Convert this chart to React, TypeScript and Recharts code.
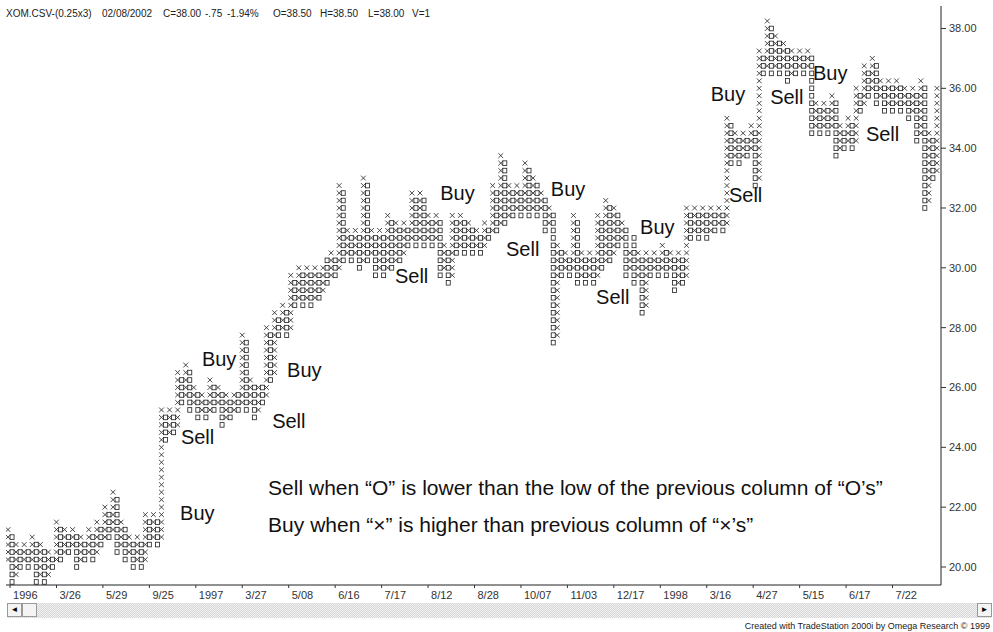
import React from "react";
import { ComposedChart, Bar, Scatter, XAxis, YAxis } from "recharts";

const BOX = 0.25;
const FONT = "'Liberation Sans', Arial, sans-serif";

// one entry per column, X and O columns alternate starting with X
const highs = [
  21.25, 21.0, 20.75, 20.5, 20.75, 20.5, 21.0, 20.75, 20.75, 20.5,
  20.5, 20.25, 21.5, 21.25, 21.25, 21.0, 21.25, 21.0, 21.0, 20.75,
  21.25, 21.0, 21.5, 21.25, 22.0, 21.75, 22.5, 22.25, 21.5, 21.25,
  21.0, 20.75, 21.0, 20.75, 21.75, 21.5, 21.75, 21.5, 25.25, 25.0,
  25.25, 25.0, 26.5, 26.25, 26.75, 26.5, 26.0, 25.75, 25.75, 25.5,
  26.25, 26.0, 26.0, 25.75, 25.75, 25.5, 25.75, 25.75, 27.75, 27.5,
  26.25, 26.0, 26.0, 26.0, 28.0, 27.75, 28.5, 28.25, 28.75, 28.5,
  29.75, 29.5, 30.0, 29.75, 30.0, 29.75, 30.0, 29.75, 30.0, 30.25,
  30.5, 30.25, 32.75, 32.5, 31.25, 31.0, 31.25, 31.0, 33.0, 32.75,
  31.25, 31.0, 31.25, 31.0, 31.75, 31.5, 31.5, 31.25, 31.5, 31.25,
  32.5, 32.25, 32.5, 32.25, 31.75, 31.5, 31.75, 31.5, 30.75, 30.5,
  31.75, 31.5, 31.75, 31.5, 31.5, 31.25, 31.25, 31.0, 31.5, 31.25,
  32.75, 32.5, 33.75, 33.5, 32.75, 32.5, 32.75, 32.5, 33.5, 33.25,
  33.0, 32.75, 32.5, 32.25, 32.0, 31.75, 30.75, 30.5, 30.5, 30.25,
  31.75, 31.5, 30.5, 30.25, 30.5, 30.25, 31.75, 31.5, 32.25, 32.0,
  32.0, 31.75, 31.5, 31.25, 30.5, 31.0, 30.5, 30.25, 30.5, 30.25,
  30.5, 30.25, 30.75, 30.5, 30.5, 30.25, 30.5, 30.25, 32.0, 31.75,
  32.0, 31.75, 32.0, 31.75, 32.0, 31.75, 32.0, 31.75, 35.0, 34.75,
  34.5, 34.25, 34.5, 34.25, 34.75, 34.5, 37.25, 37.0, 38.25, 38.0,
  37.75, 37.5, 37.5, 37.25, 37.25, 37.0, 37.25, 37.0, 37.25, 37.0,
  35.5, 35.25, 35.5, 35.25, 35.75, 35.5, 34.75, 34.5, 35.0, 34.75,
  36.0, 35.75, 36.75, 36.5, 37.0, 36.75, 36.25, 36.0, 36.25, 36.0,
  36.25, 36.0, 36.0, 35.75, 36.0, 35.75, 36.25, 36.0, 34.5, 34.25,
  36.0,
];

const lows = [
  20.25, 19.5, 19.75, 20.0, 20.25, 20.0, 20.25, 19.5, 19.75, 19.5,
  19.75, 20.0, 20.25, 20.25, 20.5, 20.5, 20.75, 20.0, 20.25, 20.25,
  20.5, 20.25, 20.5, 20.75, 21.0, 21.0, 21.25, 20.5, 20.75, 20.25,
  20.5, 20.0, 20.25, 20.0, 20.25, 20.75, 21.0, 20.75, 21.0, 24.25,
  24.5, 24.5, 24.75, 25.5, 25.75, 25.25, 25.5, 25.0, 25.25, 25.0,
  25.25, 25.25, 25.5, 24.75, 25.0, 25.0, 25.25, 25.25, 25.5, 25.25,
  25.5, 25.0, 25.25, 25.5, 25.75, 26.25, 26.5, 27.75, 28.0, 27.75,
  28.0, 28.75, 29.0, 28.75, 29.0, 28.75, 29.0, 29.0, 29.25, 29.5,
  29.75, 29.75, 30.0, 30.25, 30.5, 30.25, 30.5, 30.0, 30.25, 30.25,
  30.5, 29.75, 30.0, 29.75, 30.0, 30.0, 30.25, 30.25, 30.5, 30.75,
  31.0, 30.75, 31.0, 30.75, 31.0, 30.75, 31.0, 29.75, 30.0, 29.5,
  29.75, 30.5, 30.75, 30.5, 30.75, 30.5, 30.75, 30.5, 30.75, 31.0,
  31.25, 31.25, 31.5, 31.5, 31.75, 31.75, 32.0, 31.75, 32.0, 31.75,
  32.0, 31.75, 32.0, 31.25, 31.5, 27.5, 27.75, 29.75, 30.0, 29.75,
  30.0, 29.5, 29.75, 29.5, 29.75, 29.5, 29.75, 30.0, 30.25, 30.25,
  30.5, 30.75, 31.0, 29.75, 30.0, 29.5, 29.75, 28.5, 28.75, 29.75,
  30.0, 29.75, 30.0, 29.75, 30.0, 29.25, 29.5, 29.5, 29.75, 31.0,
  31.25, 31.0, 31.25, 31.0, 31.25, 31.25, 31.5, 31.25, 31.5, 33.5,
  33.75, 33.5, 33.75, 33.75, 34.0, 32.75, 33.0, 36.5, 36.75, 36.5,
  36.75, 36.5, 36.75, 36.25, 36.5, 36.5, 36.75, 36.5, 36.75, 34.5,
  34.75, 34.5, 34.75, 34.5, 34.75, 33.75, 34.0, 34.0, 34.25, 34.0,
  34.25, 35.25, 35.5, 35.75, 36.0, 35.5, 35.75, 35.25, 35.5, 35.25,
  35.5, 35.25, 35.5, 35.0, 35.25, 34.25, 34.5, 32.0, 32.25, 33.0,
  33.25,
];

const tickCols = [0.5, 12, 23.5, 35, 46.5, 58, 69.5, 81, 92.5, 104, 115.5, 127, 138.5, 150, 161.5, 173, 184.5, 196, 207.5, 219];
const tickLabels = ["1996", "3/26", "5/29", "9/25", "1997", "3/27", "5/08", "6/16", "7/17", "8/12", "8/28", "10/07", "11/03", "12/17", "1998", "3/16", "4/27", "5/15", "6/17", "7/22"];
const priceTicks = [20, 22, 24, 26, 28, 30, 32, 34, 36, 38];

const signals = [
  { i: 42.6, price: 21.57, text: "Buy" },
  { i: 42.8, price: 24.11, text: "Sell" },
  { i: 48.0, price: 26.72, text: "Buy" },
  { i: 69.1, price: 26.35, text: "Buy" },
  { i: 65.4, price: 24.65, text: "Sell" },
  { i: 95.8, price: 29.49, text: "Sell" },
  { i: 107.0, price: 32.27, text: "Buy" },
  { i: 123.3, price: 30.4, text: "Sell" },
  { i: 134.4, price: 32.4, text: "Buy" },
  { i: 145.6, price: 28.79, text: "Sell" },
  { i: 156.5, price: 31.13, text: "Buy" },
  { i: 174.0, price: 35.58, text: "Buy" },
  { i: 178.5, price: 32.2, text: "Sell" },
  { i: 188.7, price: 35.48, text: "Sell" },
  { i: 199.3, price: 36.28, text: "Buy" },
  { i: 212.4, price: 34.24, text: "Sell" },
];

const notes = [
  { i: 64.4, price: 22.41, text: "Sell when \u201cO\u201d is lower than the low of the previous column of \u201cO\u2019s\u201d" },
  { i: 64.4, price: 21.17, text: "Buy when \u201c\u00d7\u201d is higher than previous column of \u201c\u00d7\u2019s\u201d" },
];

const columns = highs.map((hi, i) => ({
  i,
  kind: i % 2 === 0 ? "X" : "O",
  hi,
  lo: lows[i],
  range: [lows[i] - BOX / 2, hi + BOX / 2],
}));

function BoxColumn(props: any) {
  const { x, y, width, height, payload } = props;
  if (!payload) return null;
  const n = Math.round((payload.hi - payload.lo) / BOX) + 1;
  const top = height < 0 ? y + height : y;
  const h = Math.abs(height);
  const step = h / n;
  const cx = x + width / 2;
  const marks = [];
  for (let k = 0; k < n; k++) {
    const cy = top + h - (k + 0.5) * step;
    if (payload.kind === "X") {
      marks.push(
        <path key={k} d={`M${cx - 2.4},${cy - 2.4}L${cx + 2.4},${cy + 2.4}M${cx + 2.4},${cy - 2.4}L${cx - 2.4},${cy + 2.4}`} />
      );
    } else {
      marks.push(<rect key={k} x={cx - 2} y={cy - 2.3} width={4} height={4.6} />);
    }
  }
  return (
    <g stroke="#2a2a2a" strokeWidth={0.85} fill="none">
      {marks}
    </g>
  );
}

const SignalText = (props: any) => (
  <text x={props.cx} y={props.cy} fontFamily={FONT} fontSize={20} fill="#111">
    {props.payload.text}
  </text>
);

const NoteText = (props: any) => (
  <text x={props.cx} y={props.cy} fontFamily={FONT} fontSize={21} fill="#111">
    {props.payload.text}
  </text>
);

const DateTick = (props: any) => {
  const idx = tickCols.indexOf(props.payload.value);
  return (
    <text x={props.x + 3} y={props.y + 9} fontFamily={FONT} fontSize={11} fill="#333">
      {tickLabels[idx]}
    </text>
  );
};

const header = [
  { x: 6, t: "XOM.CSV-(0.25x3)" },
  { x: 102, t: "02/08/2002" },
  { x: 163, t: "C=38.00" },
  { x: 205, t: "-.75" },
  { x: 227, t: "-1.94%" },
  { x: 273, t: "O=38.50" },
  { x: 320, t: "H=38.50" },
  { x: 368, t: "L=38.00" },
  { x: 412, t: "V=1" },
];

export default function App() {
  return (
    <div style={{ position: "absolute", left: 0, top: 0, width: 993, height: 632, background: "#fff", overflow: "hidden" }}>
      <ComposedChart width={993} height={632} data={columns} margin={{ top: 6, right: 0, left: 6, bottom: 27 }}>
        <XAxis
          type="number"
          dataKey="i"
          domain={[-0.5, 231]}
          allowDataOverflow
          ticks={tickCols}
          tick={<DateTick />}
          tickLine={{ stroke: "#333" }}
          tickSize={3}
          axisLine={{ stroke: "#222" }}
          height={20}
          interval={0}
        />
        <YAxis
          orientation="right"
          type="number"
          domain={[19.398, 38.752]}
          allowDataOverflow
          ticks={priceTicks}
          tickFormatter={(v: number) => v.toFixed(2)}
          tick={{ fontSize: 11, fill: "#333", fontFamily: FONT }}
          tickLine={{ stroke: "#333" }}
          tickSize={5}
          tickMargin={3}
          axisLine={{ stroke: "#222" }}
          width={52}
        />
        <Bar dataKey="range" barSize={4} shape={<BoxColumn />} isAnimationActive={false} />
        <Scatter data={signals} dataKey="price" shape={<SignalText />} isAnimationActive={false} />
        <Scatter data={notes} dataKey="price" shape={<NoteText />} isAnimationActive={false} />
      </ComposedChart>
      <svg width={993} height={632} style={{ position: "absolute", left: 0, top: 0, pointerEvents: "none" }}>
        {header.map((h) => (
          <text key={h.t} x={h.x} y={17} fontFamily={FONT} fontSize={10} fill="#222">
            {h.t}
          </text>
        ))}
        <text x={990} y={629} textAnchor="end" fontFamily={FONT} fontSize={9} fill="#222">
          Created with TradeStation 2000i by Omega Research © 1999
        </text>
      </svg>
      <div
        style={{
          position: "absolute",
          left: 7,
          top: 603,
          width: 985,
          height: 15,
          background: "repeating-conic-gradient(#d6d6d6 0 25%, #f2f2f2 0 50%) 0 0/2px 2px",
        }}
      />
      <div style={{ position: "absolute", left: 7, top: 603, width: 15, height: 14, background: "#f4f4f4", border: "1px solid #999", boxSizing: "border-box", fontSize: 8, lineHeight: "12px", textAlign: "center", fontFamily: FONT }}>◄</div>
      <div style={{ position: "absolute", left: 22, top: 603, width: 15, height: 14, background: "#f4f4f4", border: "1px solid #999", boxSizing: "border-box" }} />
      <div style={{ position: "absolute", left: 977, top: 603, width: 15, height: 14, background: "#f4f4f4", border: "1px solid #999", boxSizing: "border-box", fontSize: 8, lineHeight: "12px", textAlign: "center", fontFamily: FONT }}>►</div>
    </div>
  );
}
